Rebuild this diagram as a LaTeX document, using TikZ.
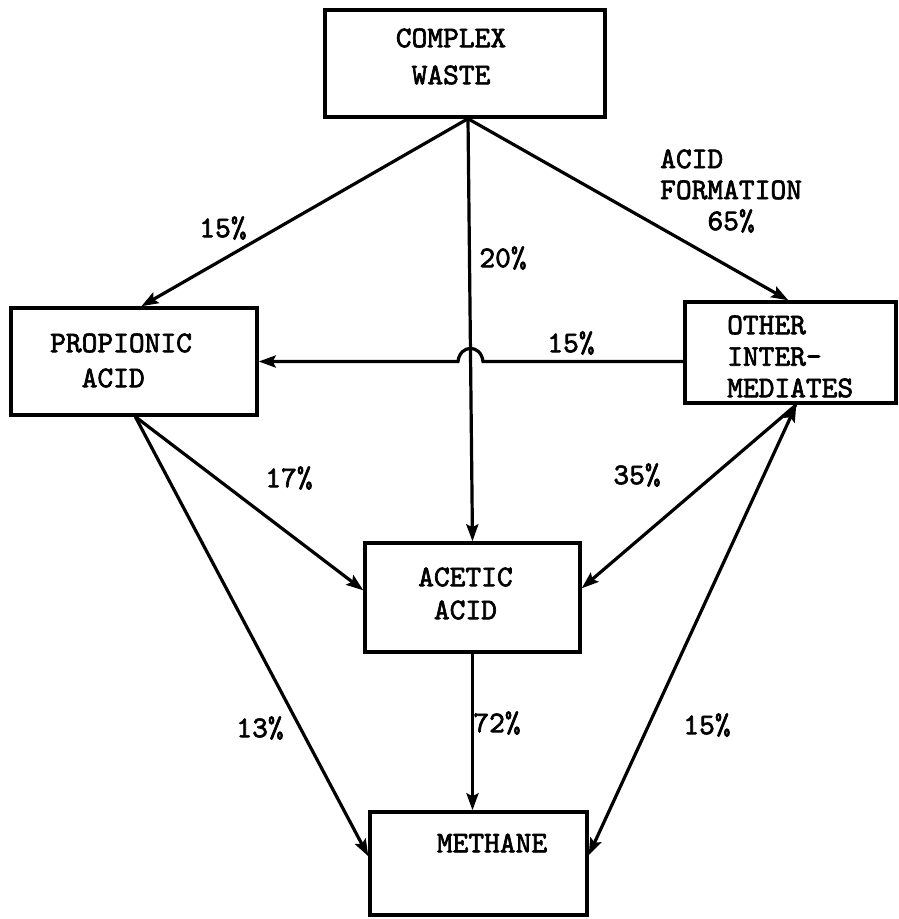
\documentclass[tikz,border=0pt]{standalone}
\usepackage{fontspec}
\newfontfamily\tw{lmmono10-regular}[Extension=.otf, FakeBold=2.2]
\usetikzlibrary{arrows.meta,calc}
\begin{document}
\begin{tikzpicture}[x=1pt,y=-1pt,
  box/.style={draw, line width=3.4pt, rectangle, inner sep=0pt},
  lbl/.style={inner sep=0pt, font=\tw\fontsize{30}{33}\selectfont},
  conn/.style={line width=3.2pt, -{Stealth[length=17pt,width=12pt,inset=3pt]}},
  dconn/.style={line width=3.2pt, {Stealth[length=17pt,width=12pt,inset=3pt]}-{Stealth[length=17pt,width=12pt,inset=3pt]}}
]
\useasboundingbox (0,0) rectangle (899,919);
\fill[white] (0,0) rectangle (899,919);

% boxes
\node[box, minimum width=280pt, minimum height=107pt] (cw) at (465,63.5) {};
\node[box, minimum width=246pt, minimum height=107pt] (prop) at (134,361.5) {};
\node[box, minimum width=211pt, minimum height=101pt] (other) at (790.5,352.5) {};
\node[box, minimum width=215pt, minimum height=109pt] (ac) at (472.5,597.5) {};
\node[box, minimum width=217pt, minimum height=103pt] (meth) at (478.5,863.5) {};

% box texts
\node[lbl, align=center, font=\tw\fontsize{30}{37}\selectfont] (cwtext) at (451,56.5) {COMPLEX\\WASTE};
\node[lbl, align=left, anchor=west, font=\tw\fontsize{30}{35}\selectfont] (proptext) at (50,360.5) {PROPIONIC\\\phantom{PR}ACID};
\node[lbl, align=left, anchor=west, font=\tw\fontsize{30}{31.5}\selectfont] (othertext) at (727,356.5) {OTHER\\INTER-\\MEDIATES};
\node[lbl, align=left, anchor=west, font=\tw\fontsize{30}{33}\selectfont] (actext) at (418,593.5) {ACETIC\\\phantom{A}ACID};
\node[lbl] (methtext) at (492,843) {METHANE};

% connector labels
\node[lbl, align=left, anchor=west, font=\tw\fontsize{30}{31}\selectfont] (afl) at (660,191) {ACID\\FORMATION\\\phantom{FOR}65\%};
\node[lbl] (l15a) at (223,228) {15\%};
\node[lbl] (l20) at (503,258) {20\%};
\node[lbl] (l15b) at (571,343) {15\%};
\node[lbl] (l17) at (289,478) {17\%};
\node[lbl] (l35) at (637,475) {35\%};
\node[lbl] (l13) at (260,728) {13\%};
\node[lbl] (l72) at (497,723) {72\%};
\node[lbl] (l15c) at (707,725) {15\%};

% connector anchor points
\coordinate (apex) at ($(cw.south)+(3,0)$);
\coordinate (hopR) at (483,361.5);
\coordinate (hopL) at (458,361.5);
\coordinate (propbot) at ($(prop.south west)+(126,0)$);
\coordinate (othbot) at ($(other.south west)+(113,0)$);

% connectors
\draw[conn] (apex) -- ($(prop.north west)+(132,0)$);
\draw[conn] (apex) -- (ac.north);
\draw[conn] (apex) -- ($(other.north west)+(105,0)$);
\draw[conn] (other.west |- prop.east) -- (hopR) .. controls (481,344) and (460,344) .. (hopL) -- (prop.east);
\draw[conn] (propbot) -- ($(ac.north west)+(0,49)$);
\draw[conn] (propbot) -- ($(meth.north west)+(0,46)$);
\draw[conn] (ac.south) -- (ac.south |- meth.north);
\draw[conn] (othbot) -- ($(ac.north east)+(0,47)$);
\draw[dconn] ($(meth.north east)+(0,45)$) -- (othbot);
\end{tikzpicture}
\end{document}
